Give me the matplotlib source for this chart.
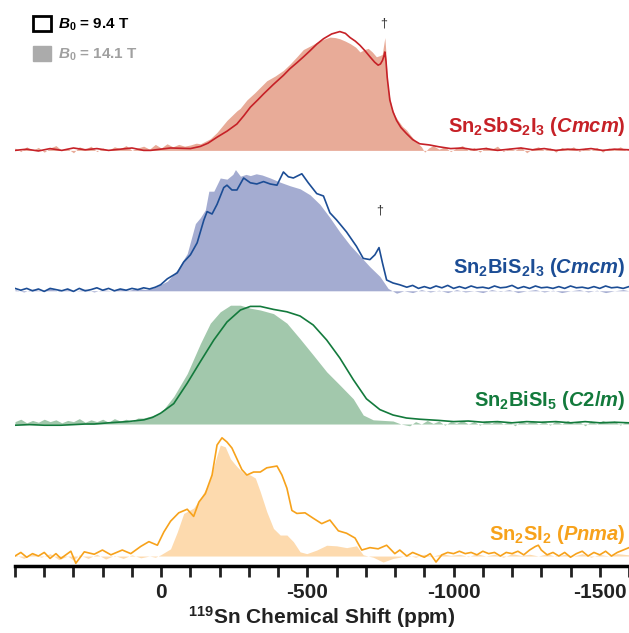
import numpy as np
import matplotlib.pyplot as plt
from matplotlib.patches import Patch
from matplotlib.ticker import MultipleLocator

plt.rcParams['font.family'] = ['Liberation Sans', 'DejaVu Sans']
plt.rcParams['mathtext.fontset'] = 'custom'
plt.rcParams['mathtext.rm'] = 'Liberation Sans:bold'
plt.rcParams['mathtext.it'] = 'Liberation Sans:bold:italic'
plt.rcParams['mathtext.bf'] = 'Liberation Sans:bold'

# (ppm, intensity) pairs, intensity normalised to ~1 at the maximum
# Sn2SbS2I3
sb_fill = [(500, 0.02), (480, -0.01), (460, 0.03), (440, 0.0), (420, 0.025), (400, -0.015), (380, 0.02),
           (360, 0.04), (340, 0.0), (320, 0.015), (300, -0.02), (280, 0.03), (260, 0.01), (240, 0.035),
           (220, -0.01), (200, 0.02), (180, 0.0), (160, 0.03), (140, 0.015), (120, 0.04), (100, 0.0),
           (80, 0.02), (60, 0.035), (40, 0.01), (20, 0.05), (0, 0.02), (-20, 0.055), (-40, 0.03),
           (-60, 0.05), (-80, 0.035), (-100, 0.045), (-120, 0.06), (-134, 0.055), (-168, 0.097),
           (-191, 0.15), (-225, 0.25), (-259, 0.33), (-270, 0.35), (-293, 0.42), (-320, 0.48),
           (-361, 0.58), (-390, 0.62), (-418, 0.667), (-441, 0.72), (-464, 0.78), (-486, 0.84),
           (-510, 0.87), (-532, 0.90), (-555, 0.925), (-577, 0.944), (-595, 0.94), (-611, 0.93),
           (-630, 0.91), (-646, 0.89), (-665, 0.86), (-680, 0.82), (-695, 0.84), (-708, 0.85),
           (-722, 0.82), (-736, 0.78), (-748, 0.79), (-756, 0.80), (-761, 0.88), (-765, 0.94),
           (-769, 0.80), (-773, 0.58), (-780, 0.46), (-788, 0.36), (-800, 0.29), (-810, 0.25),
           (-825, 0.20), (-839, 0.17), (-855, 0.12), (-873, 0.07), (-890, 0.03), (-901, -0.015),
           (-915, 0.02), (-930, 0.04), (-950, 0.01), (-970, 0.03), (-990, -0.01), (-1010, 0.02),
           (-1030, 0.04), (-1050, 0.0), (-1070, 0.025), (-1090, -0.015), (-1110, 0.03), (-1130, 0.01),
           (-1150, 0.035), (-1170, -0.01), (-1190, 0.02), (-1210, 0.0), (-1230, 0.03), (-1250, -0.02),
           (-1270, 0.015), (-1290, 0.03), (-1310, 0.0), (-1330, 0.02), (-1350, -0.015), (-1370, 0.025),
           (-1390, 0.005), (-1410, 0.03), (-1430, -0.01), (-1450, 0.02), (-1470, 0.0), (-1490, 0.025),
           (-1510, -0.015), (-1530, 0.02), (-1550, 0.005), (-1570, 0.03), (-1590, 0.0), (-1600, 0.01)]
sb_line = [(500, 0.0), (460, 0.01), (420, -0.005), (380, 0.015), (340, 0.0), (300, 0.02), (260, 0.005),
           (220, 0.015), (180, 0.0), (140, 0.01), (100, 0.02), (60, 0.0), (36, 0.0), (-32, 0.02),
           (-100, 0.015), (-134, 0.033), (-160, 0.06), (-191, 0.11), (-225, 0.16), (-259, 0.22),
           (-283, 0.29), (-305, 0.36), (-330, 0.42), (-350, 0.47), (-384, 0.55), (-418, 0.625),
           (-440, 0.68), (-464, 0.73), (-487, 0.78), (-509, 0.83), (-532, 0.885), (-555, 0.93),
           (-583, 0.97), (-611, 0.99), (-630, 0.975), (-646, 0.94), (-664, 0.91), (-680, 0.875),
           (-697, 0.83), (-714, 0.78), (-730, 0.735), (-742, 0.71), (-750, 0.72), (-757, 0.75),
           (-762, 0.79), (-765, 0.82), (-769, 0.74), (-773, 0.61), (-782, 0.42), (-793, 0.32),
           (-805, 0.25), (-820, 0.19), (-839, 0.14), (-860, 0.09), (-884, 0.055), (-918, 0.045),
           (-950, 0.03), (-990, 0.015), (-1030, 0.02), (-1070, 0.005), (-1110, 0.015), (-1150, 0.0),
           (-1190, 0.01), (-1230, 0.02), (-1270, 0.005), (-1310, 0.015), (-1350, 0.0), (-1390, 0.01),
           (-1430, 0.005), (-1470, 0.015), (-1510, 0.0), (-1550, 0.01), (-1600, 0.005)]

# Sn2BiS2I3
bi_fill = [(500, 0.01), (470, -0.01), (440, 0.015), (410, 0.0), (380, 0.02), (350, -0.005), (320, 0.01),
           (290, 0.0), (260, 0.015), (230, -0.01), (200, 0.01), (170, 0.0), (140, 0.015), (110, 0.005),
           (80, 0.02), (50, 0.01), (20, 0.03), (-21, 0.08), (-55, 0.175), (-89, 0.31), (-117, 0.56),
           (-134, 0.61), (-151, 0.675), (-163, 0.83), (-180, 0.83), (-202, 0.94), (-225, 0.93),
           (-245, 0.97), (-254, 1.01), (-271, 0.955), (-290, 0.97), (-305, 0.96), (-325, 0.975),
           (-345, 0.965), (-373, 0.94), (-407, 0.905), (-441, 0.875), (-475, 0.85), (-509, 0.80),
           (-543, 0.72), (-577, 0.61), (-611, 0.49), (-646, 0.38), (-680, 0.29), (-714, 0.20),
           (-748, 0.12), (-776, 0.02), (-805, -0.02), (-830, 0.0), (-860, -0.015), (-890, 0.01),
           (-920, -0.01), (-950, 0.005), (-980, -0.015), (-1010, 0.01), (-1040, -0.01), (-1070, 0.0),
           (-1100, -0.015), (-1130, 0.01), (-1160, -0.005), (-1190, 0.01), (-1220, -0.015), (-1250, 0.0),
           (-1280, 0.01), (-1310, -0.01), (-1340, 0.005), (-1370, -0.015), (-1400, 0.0), (-1430, 0.01),
           (-1460, -0.01), (-1490, 0.005), (-1520, -0.015), (-1550, 0.0), (-1580, 0.01), (-1600, 0.0)]
bi_line = [(500, 0.02), (480, 0.005), (460, 0.02), (440, 0.0), (420, 0.015), (400, -0.005), (380, 0.02),
           (360, 0.01), (340, 0.0), (320, 0.015), (300, -0.005), (280, 0.02), (260, 0.0), (240, 0.01),
           (220, 0.025), (200, 0.005), (180, 0.02), (160, 0.0), (140, 0.015), (120, 0.005), (100, 0.02),
           (80, 0.01), (60, 0.025), (40, 0.015), (20, 0.03), (2, 0.05), (-21, 0.10), (-55, 0.15),
           (-77, 0.24), (-100, 0.30), (-123, 0.40), (-146, 0.59), (-157, 0.66), (-174, 0.64),
           (-191, 0.72), (-214, 0.86), (-225, 0.88), (-242, 0.84), (-259, 0.84), (-282, 0.94),
           (-305, 0.90), (-327, 0.89), (-350, 0.91), (-373, 0.89), (-396, 0.88), (-418, 0.99),
           (-435, 0.95), (-452, 0.94), (-481, 0.975), (-503, 0.90), (-532, 0.81), (-555, 0.79),
           (-577, 0.65), (-600, 0.59), (-634, 0.49), (-668, 0.37), (-691, 0.27), (-714, 0.26),
           (-731, 0.30), (-745, 0.36), (-757, 0.23), (-771, 0.09), (-793, 0.065), (-816, 0.05),
           (-840, 0.03), (-860, 0.045), (-880, 0.02), (-900, 0.035), (-920, 0.02), (-940, 0.04),
           (-960, 0.025), (-980, 0.045), (-1000, 0.02), (-1020, 0.035), (-1040, 0.02), (-1060, 0.04),
           (-1080, 0.025), (-1100, 0.03), (-1120, 0.02), (-1140, 0.04), (-1160, 0.025), (-1180, 0.03),
           (-1200, 0.045), (-1220, 0.02), (-1240, 0.035), (-1260, 0.02), (-1280, 0.04), (-1300, 0.025),
           (-1320, 0.03), (-1340, 0.02), (-1360, 0.035), (-1380, 0.02), (-1400, 0.04), (-1420, 0.025),
           (-1440, 0.03), (-1460, 0.02), (-1480, 0.035), (-1500, 0.02), (-1520, 0.04), (-1540, 0.025),
           (-1560, 0.03), (-1580, 0.02), (-1600, 0.035)]

# Sn2BiSI5
bisi_fill = [(500, 0.02), (480, 0.04), (460, 0.01), (440, 0.03), (420, 0.015), (400, 0.04), (380, 0.02),
             (360, 0.035), (340, 0.01), (320, 0.03), (300, 0.02), (280, 0.045), (260, 0.015), (240, 0.035),
             (220, 0.02), (200, 0.04), (180, 0.015), (160, 0.045), (140, 0.025), (120, 0.04), (100, 0.02),
             (80, 0.05), (59, 0.05), (30, 0.07), (2, 0.09), (-43, 0.23), (-89, 0.42), (-134, 0.67),
             (-168, 0.84), (-202, 0.935), (-237, 0.99), (-271, 0.99), (-305, 0.965), (-339, 0.95),
             (-384, 0.92), (-430, 0.84), (-475, 0.71), (-520, 0.575), (-566, 0.435), (-611, 0.325),
             (-657, 0.21), (-691, 0.075), (-725, 0.035), (-760, 0.03), (-793, 0.025), (-820, 0.0),
             (-850, -0.015), (-870, 0.02), (-890, 0.0), (-910, 0.03), (-930, 0.005), (-950, 0.025),
             (-970, -0.01), (-990, 0.02), (-1010, 0.005), (-1030, 0.03), (-1050, 0.0), (-1070, 0.02),
             (-1090, -0.01), (-1110, 0.025), (-1130, 0.005), (-1150, 0.03), (-1170, 0.0), (-1190, 0.02),
             (-1210, -0.015), (-1230, 0.025), (-1250, 0.005), (-1270, 0.03), (-1290, 0.0), (-1310, 0.02),
             (-1330, -0.01), (-1350, 0.025), (-1370, 0.0), (-1390, 0.03), (-1410, 0.005), (-1430, 0.02),
             (-1450, -0.015), (-1470, 0.025), (-1490, 0.0), (-1510, 0.03), (-1530, 0.01), (-1550, 0.025),
             (-1570, -0.01), (-1590, 0.02), (-1600, 0.01)]
bisi_line = [(500, -0.01), (450, -0.005), (400, -0.01), (343, -0.01), (300, -0.005), (260, 0.0),
             (229, 0.0), (180, 0.01), (116, 0.02), (59, 0.035), (30, 0.055), (2, 0.09), (-43, 0.17),
             (-89, 0.34), (-134, 0.52), (-180, 0.70), (-225, 0.85), (-271, 0.95), (-305, 0.98),
             (-339, 0.98), (-384, 0.955), (-430, 0.935), (-475, 0.90), (-520, 0.825), (-566, 0.70),
             (-611, 0.55), (-657, 0.37), (-702, 0.21), (-748, 0.12), (-793, 0.075), (-839, 0.05),
             (-884, 0.04), (-950, 0.03), (-1000, 0.02), (-1050, 0.025), (-1100, 0.015), (-1150, 0.02),
             (-1200, 0.01), (-1250, 0.02), (-1300, 0.015), (-1350, 0.02), (-1400, 0.01), (-1450, 0.02),
             (-1500, 0.01), (-1550, 0.015), (-1600, 0.01)]

# Sn2SI2
si_fill = [(500, 0.01), (470, -0.02), (440, 0.015), (410, -0.01), (380, 0.02), (350, -0.03), (320, 0.0),
           (300, -0.035), (280, 0.01), (250, -0.02), (220, 0.015), (190, -0.025), (160, 0.005),
           (130, -0.02), (100, 0.01), (70, -0.015), (40, 0.0), (20, -0.01), (2, 0.01), (-32, 0.06),
           (-55, 0.20), (-77, 0.355), (-111, 0.40), (-134, 0.48), (-163, 0.605), (-191, 0.84),
           (-202, 0.925), (-219, 0.91), (-237, 0.81), (-259, 0.745), (-282, 0.69), (-305, 0.675),
           (-322, 0.65), (-339, 0.535), (-361, 0.37), (-384, 0.23), (-407, 0.175), (-430, 0.175),
           (-452, 0.12), (-475, 0.035), (-498, 0.02), (-532, 0.05), (-566, 0.09), (-600, 0.085),
           (-634, 0.07), (-668, 0.085), (-691, 0.01), (-725, -0.01), (-759, -0.05), (-793, -0.02),
           (-816, -0.01), (-840, 0.01), (-870, -0.01), (-900, 0.015), (-930, 0.0), (-960, 0.02),
           (-990, 0.005), (-1020, 0.015), (-1050, -0.005), (-1080, 0.02), (-1110, 0.0), (-1140, 0.015),
           (-1170, -0.01), (-1200, 0.02), (-1230, 0.005), (-1260, 0.015), (-1290, 0.0), (-1320, 0.02),
           (-1350, -0.005), (-1380, 0.015), (-1410, 0.0), (-1440, 0.02), (-1470, -0.01), (-1500, 0.015),
           (-1530, 0.0), (-1560, 0.02), (-1600, 0.01)]
si_line = [(500, 0.0), (480, 0.03), (460, -0.01), (440, 0.02), (420, 0.0), (400, 0.03), (380, -0.02),
           (360, 0.02), (343, -0.02), (309, 0.04), (292, -0.06), (263, 0.035), (229, 0.015), (201, 0.05),
           (172, 0.01), (133, 0.05), (104, 0.02), (70, 0.08), (42, 0.12), (13, 0.09), (-9, 0.20),
           (-32, 0.29), (-60, 0.36), (-89, 0.39), (-111, 0.33), (-129, 0.45), (-151, 0.52),
           (-174, 0.675), (-191, 0.925), (-208, 0.985), (-225, 0.95), (-242, 0.90), (-259, 0.81),
           (-276, 0.72), (-293, 0.675), (-316, 0.70), (-339, 0.70), (-361, 0.735), (-396, 0.75),
           (-413, 0.675), (-430, 0.565), (-447, 0.38), (-464, 0.355), (-492, 0.36), (-520, 0.315),
           (-549, 0.27), (-577, 0.30), (-606, 0.21), (-634, 0.19), (-663, 0.15), (-686, 0.05),
           (-714, 0.07), (-742, 0.06), (-771, 0.09), (-799, 0.02), (-816, 0.05), (-840, 0.0),
           (-860, 0.03), (-880, 0.01), (-900, -0.01), (-920, 0.02), (-940, -0.05), (-960, 0.01),
           (-980, 0.03), (-1000, 0.02), (-1020, 0.04), (-1040, 0.02), (-1060, 0.03), (-1080, 0.01),
           (-1100, 0.04), (-1120, 0.02), (-1140, 0.03), (-1160, 0.0), (-1180, 0.03), (-1200, 0.02),
           (-1220, 0.04), (-1240, 0.01), (-1260, 0.05), (-1280, 0.08), (-1290, 0.09), (-1300, 0.05),
           (-1320, 0.01), (-1340, 0.03), (-1360, 0.0), (-1380, 0.03), (-1400, -0.01), (-1420, 0.02),
           (-1440, 0.04), (-1460, 0.0), (-1480, 0.03), (-1500, 0.01), (-1520, 0.04), (-1540, 0.0),
           (-1560, 0.03), (-1580, 0.05), (-1600, 0.07)]

names = [r'Sn$_2$SbS$_2$I$_3$ ($\mathit{Cmcm}$)', r'Sn$_2$BiS$_2$I$_3$ ($\mathit{Cmcm}$)',
         r'Sn$_2$BiSI$_5$ ($\mathit{C2/m}$)', r'Sn$_2$SI$_2$ ($\mathit{Pnma}$)']
fills = [sb_fill, bi_fill, bisi_fill, si_fill]
lines = [sb_line, bi_line, bisi_line, si_line]
offsets = [3.38, 2.21, 1.10, 0.0]
line_colors = ['#C62127', '#1C4D95', '#137A3C', '#F7A21B']
fill_colors = ['#E8AB98', '#A4ACD1', '#A2C8AC', '#FDDAAE']
label_y = [0.20, 0.19, 0.20, 0.18]

fig = plt.figure(figsize=(6.29, 6.33), dpi=100)
ax = fig.add_axes([15 / 629, 67 / 633, 614 / 629, 566 / 633])

for name, f, l, off, lc, fc, ty in zip(names, fills, lines, offsets, line_colors, fill_colors, label_y):
    fx, fy = np.array(f).T
    lx, ly = np.array(l).T
    ax.fill_between(fx, off, off + fy, color=fc, lw=0)
    ax.plot(lx, off + ly, color=lc, lw=1.2)
    ax.text(-1588, off + ty, name, color=lc, fontsize=14.5, fontweight='bold',
            ha='right', va='center')

# daggers over the spinning-sideband spikes
ax.text(-760, 3.38 + 1.06, '†', fontsize=9, ha='center', va='center', color='#333333')
ax.text(-748, 2.21 + 0.67, '†', fontsize=9, ha='center', va='center', color='#333333')

ax.set_xlim(500, -1600)
ax.set_ylim(-0.083, 4.633)
for s in ['top', 'left', 'right']:
    ax.spines[s].set_visible(False)
ax.spines['bottom'].set_linewidth(2.5)
ax.set_yticks([])
ax.xaxis.set_major_locator(MultipleLocator(500))
ax.xaxis.set_minor_locator(MultipleLocator(100))
ax.tick_params(axis='x', which='both', direction='out', length=8, width=2, pad=4, colors='#222222')
ax.set_xticks([0, -500, -1000, -1500])
ax.set_xticklabels(['0', '-500', '-1000', '-1500'], fontsize=15, fontweight='bold')
ax.set_xlabel(r'$^{\mathregular{119}}$Sn Chemical Shift (ppm)', fontsize=15, fontweight='bold',
              labelpad=2, color='#222222')

handles = [Patch(facecolor='none', edgecolor='black', linewidth=2),
           Patch(facecolor='#ABABAB', edgecolor='#ABABAB', linewidth=1)]
fig.legend(handles, [r'$B_0$ = 9.4 T', r'$B_0$ = 14.1 T'], loc='upper left',
           bbox_to_anchor=(33 / 629, 1 - 16 / 633), frameon=False,
           handlelength=1.15, handleheight=1.15, handletextpad=0.5, labelspacing=0.85,
           borderaxespad=0, borderpad=0, labelcolor=['black', '#A0A0A0'],
           prop={'weight': 'bold', 'size': 11})

fig.savefig('out.png', dpi=100)
